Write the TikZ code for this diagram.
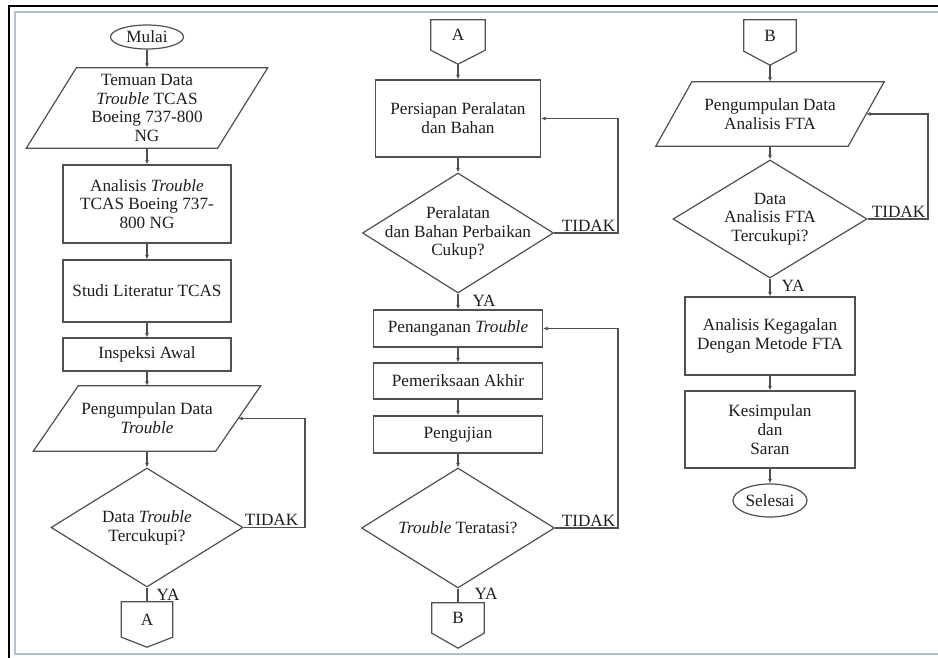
\documentclass[tikz,border=0pt]{standalone}
\usepackage{fontspec}
\setmainfont{Liberation Serif}
\usetikzlibrary{shapes.geometric,arrows.meta,calc}
\definecolor{ln}{HTML}{505050}
\definecolor{tx}{HTML}{1E1E1E}
\definecolor{fr}{HTML}{B4C0CC}
\begin{document}
\begin{tikzpicture}[x=1pt,y=-1pt,
  font=\fontsize{17.2}{18.8}\selectfont, text=tx,
  shp/.style={draw=ln, line width=1.2pt},
  box/.style={shp, rectangle, inner sep=0pt, align=center},
  io/.style={rectangle, inner sep=0pt, align=center},
  dec/.style={shp, diamond, inner sep=0pt},
  term/.style={shp, ellipse, inner sep=0pt},
  conn/.style={rectangle, inner sep=0pt},
  arr/.style={draw=ln, line width=1.2pt, -{Latex[length=4.5pt,width=4pt]}},
  plain/.style={draw=ln, line width=1.2pt},
  lbl/.style={inner sep=1.5pt}
]
\useasboundingbox (0,0) rectangle (938,658);
\fill[white] (0,0) rectangle (938,658);
% frame
\draw[black, line width=1.6pt] (9,658) -- (9,6) -- (938,6);
\draw[fr, line width=1.8pt] (938,12) -- (15,12) -- (15,654) -- (938,654);

% ---------- column 1 ----------
\node[term, minimum width=73pt, minimum height=24pt] (mulai) at (147,37) {Mulai};
\node[io, minimum width=191pt, minimum height=80pt] (p1) at (147,108) {Temuan Data\\\textit{Trouble} TCAS\\Boeing 737-800\\NG};
\draw[shp] ($(p1.north west)+(25,0)$) -- ($(p1.north east)+(25,0)$) -- ($(p1.south east)+(-25,0)$) -- ($(p1.south west)+(-25,0)$) -- cycle;
\node[box, minimum width=168pt, minimum height=78pt] (b1) at (147,204) {Analisis \textit{Trouble}\\TCAS Boeing 737-\\800 NG};
\node[box, minimum width=168pt, minimum height=62pt] (b2) at (147,291) {Studi Literatur TCAS};
\node[box, minimum width=168pt, minimum height=33pt] (b3) at (147,354.5) {Inspeksi Awal};
\node[io, minimum width=182pt, minimum height=65pt] (p2) at (147,418.5) {Pengumpulan Data\\\textit{Trouble}};
\draw[shp] ($(p2.north west)+(22.5,0)$) -- ($(p2.north east)+(22.5,0)$) -- ($(p2.south east)+(-22.5,0)$) -- ($(p2.south west)+(-22.5,0)$) -- cycle;
\node[dec, minimum width=192pt, minimum height=119pt, label={[align=center]center:Data \textit{Trouble}\\Tercukupi?}] (d1) at (147,527.5) {};
\node[conn, minimum width=51pt, minimum height=35pt] (ca1) at (147,619.5) {A};
\draw[shp] (ca1.north west) -- (ca1.north east) -- (ca1.south east) -- ($(ca1.south)+(0,10)$) -- (ca1.south west) -- cycle;
\coordinate (l1) at (305,0);

\draw[arr] (mulai) -- (p1);
\draw[arr] (p1) -- (b1);
\draw[arr] (b1) -- (b2);
\draw[arr] (b2) -- (b3);
\draw[arr] (b3) -- (p2);
\draw[arr] (p2) -- (d1);
\draw[arr] (d1.east) -- (d1.east -| l1) -- (p2.east -| l1) -- (p2.east);
\draw[plain] (d1.south) -- (ca1.north);
\node[lbl, anchor=south east] (t1) at ($(d1.east -| l1)+(-5,0)$) {TIDAK};
\node[lbl, anchor=west] (y1) at ($(d1.south)+(8,7)$) {YA};

% ---------- column 2 ----------
\node[conn, minimum width=54pt, minimum height=30pt] (ca2) at (458,35) {A};
\draw[shp] (ca2.north west) -- (ca2.north east) -- (ca2.south east) -- ($(ca2.south)+(0,14)$) -- (ca2.south west) -- cycle;
\coordinate (ca2t) at ($(ca2.south)+(0,14)$);
\node[box, minimum width=165pt, minimum height=77pt] (b4) at (458,118.5) {Persiapan Peralatan\\dan Bahan};
\node[dec, minimum width=191pt, minimum height=120pt, label={[align=center]center:Peralatan\\dan Bahan Perbaikan\\Cukup?}] (d2) at (458,233) {};
\node[box, minimum width=169pt, minimum height=37pt] (b5) at (458,328.5) {Penanganan \textit{Trouble}};
\node[box, minimum width=169pt, minimum height=36pt] (b6) at (458,381) {Pemeriksaan Akhir};
\node[box, minimum width=169pt, minimum height=37pt] (b7) at (458,434.5) {Pengujian};
\node[dec, minimum width=193pt, minimum height=120pt, label={[align=center]center:\textit{Trouble} Teratasi?}] (d3) at (458,528) {};
\node[conn, minimum width=52pt, minimum height=30pt] (cb1) at (458,618) {B};
\draw[shp] (cb1.north west) -- (cb1.north east) -- (cb1.south east) -- ($(cb1.south)+(0,15)$) -- (cb1.south west) -- cycle;
\coordinate (l2) at (618,0);

\draw[arr] (ca2t) -- (b4);
\draw[arr] (b4) -- (d2);
\draw[arr] (d2.east) -- (d2.east -| l2) -- (b4.east -| l2) -- (b4.east);
\draw[arr] (d2.south) -- (b5.north);
\draw[arr] (b5) -- (b6);
\draw[arr] (b6) -- (b7);
\draw[arr] (b7) -- (d3);
\draw[arr] (d3.east) -- (d3.east -| l2) -- (b5.east -| l2) -- (b5.east);
\draw[plain] (d3.south) -- (cb1.north);
\node[lbl, anchor=south east] (t2) at ($(d2.east -| l2)+(-1,0)$) {TIDAK};
\node[lbl, anchor=south east] (t3) at ($(d3.east -| l2)+(-1,0)$) {TIDAK};
\node[lbl, anchor=west] (y2) at ($(d2.south)+(13,7)$) {YA};
\node[lbl, anchor=west] (y3) at ($(d3.south)+(15,5)$) {YA};

% ---------- column 3 ----------
\node[conn, minimum width=52pt, minimum height=31pt] (cb2) at (770,35.5) {B};
\draw[shp] (cb2.north west) -- (cb2.north east) -- (cb2.south east) -- ($(cb2.south)+(0,14)$) -- (cb2.south west) -- cycle;
\coordinate (cb2t) at ($(cb2.south)+(0,14)$);
\node[io, minimum width=192pt, minimum height=64pt] (p3) at (770,114) {Pengumpulan Data\\Analisis FTA};
\draw[shp] ($(p3.north west)+(18,0)$) -- ($(p3.north east)+(18,0)$) -- ($(p3.south east)+(-18,0)$) -- ($(p3.south west)+(-18,0)$) -- cycle;
\node[dec, minimum width=194pt, minimum height=118pt, label={[align=center]center:Data\\Analisis FTA\\Tercukupi?}] (d4) at (770,219) {};
\node[box, minimum width=170pt, minimum height=78pt] (b8) at (770,336) {Analisis Kegagalan\\Dengan Metode FTA};
\node[box, minimum width=170pt, minimum height=77pt] (b9) at (770,429.5) {Kesimpulan\\dan\\Saran};
\node[term, minimum width=74pt, minimum height=33pt] (selesai) at (770,500.5) {Selesai};
\coordinate (l3) at (928,0);

\draw[arr] (cb2t) -- (p3);
\draw[arr] (p3) -- (d4);
\draw[arr] (d4.east) -- (d4.east -| l3) -- (p3.east -| l3) -- (p3.east);
\draw[arr] (d4.south) -- (b8.north);
\draw[arr] (b8) -- (b9);
\draw[arr] (b9) -- (selesai);
\node[lbl, anchor=south east] (t4) at ($(d4.east -| l3)+(-1,0)$) {TIDAK};
\node[lbl, anchor=west] (y4) at ($(d4.south)+(10,7)$) {YA};
\end{tikzpicture}
\end{document}
